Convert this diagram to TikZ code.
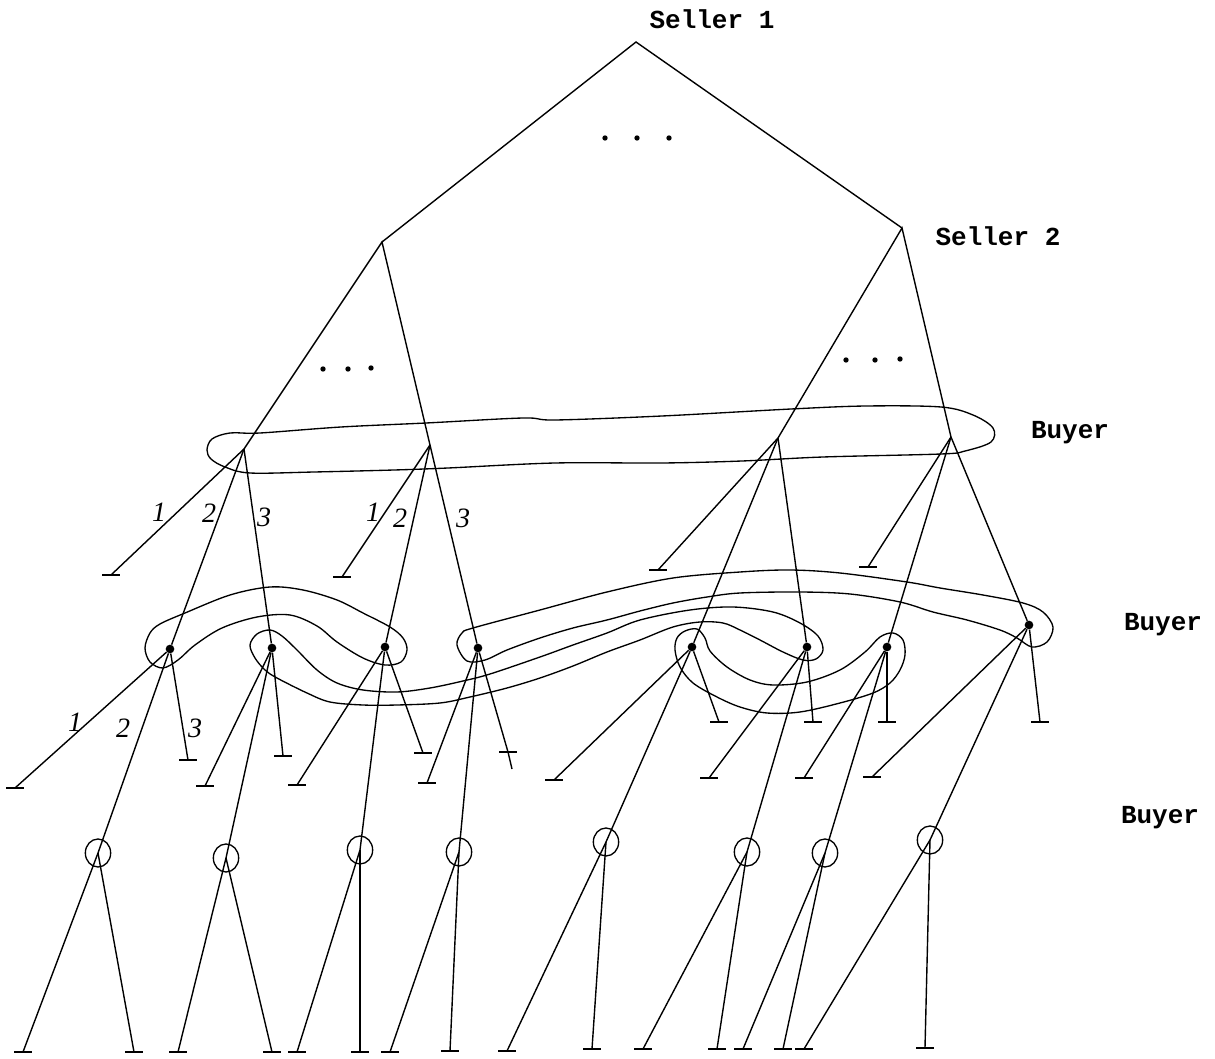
\documentclass[tikz,border=0pt]{standalone}
\usepackage{fontspec}
\newfontfamily\labfont{Liberation Mono}
\newfontfamily\numfont{Liberation Serif}
\newcommand\termnode[3]{\coordinate (#1) at (#2,#3); \draw[tickline] ([xshift=-6.75pt]#1) -- ([xshift=6.75pt]#1);}
\begin{document}
\begin{tikzpicture}[x=0.75pt,y=-0.75pt,
  edge/.style={line width=1.05pt},
  tickline/.style={line width=1.7pt},
  infoset/.style={line width=1pt},
  dotnode/.style={circle,fill,inner sep=0pt,minimum size=6.5pt},
  lab/.style={font=\labfont\bfseries\fontsize{19.5}{20}\selectfont},
  num/.style={font=\numfont\itshape\fontsize{21}{21}\selectfont},
  oval/.style={line width=1pt}
]
\useasboundingbox (0,0) rectangle (1215,1059);

% decision vertices
\coordinate (R) at (636,42);
\coordinate (S2L) at (382,242);
\coordinate (S2R) at (902,228);
\coordinate (B1a) at (244,449);
\coordinate (B1b) at (430,445);
\coordinate (B1c) at (778,438);
\coordinate (B1d) at (951,437);
\node[dotnode] (C1) at (170,649) {};
\node[dotnode] (C2) at (272,648) {};
\node[dotnode] (C3) at (385,647) {};
\node[dotnode] (C4) at (478,648) {};
\node[dotnode] (C5) at (692,647) {};
\node[dotnode] (C6) at (807,647) {};
\node[dotnode] (C7) at (887,647) {};
\node[dotnode] (C8) at (1029,625) {};
\coordinate (D1) at (98,853);
\coordinate (D2) at (226,858);
\coordinate (D3) at (360,850);
\coordinate (D4) at (459,852);
\coordinate (D5) at (606,842);
\coordinate (D6) at (747,852);
\coordinate (D7) at (825,853);
\coordinate (D8) at (930,840);

% terminals
\termnode{Ta}{111}{575}
\termnode{Tb}{342}{577}
\termnode{Tc}{658}{570}
\termnode{Td}{868}{567}
\termnode{T11}{15}{788}
\termnode{T13}{188}{760}
\termnode{T21}{205}{786}
\termnode{T23}{283}{756}
\termnode{T31}{297}{785}
\termnode{T33}{423}{753}
\termnode{T41}{427}{783}
\termnode{T43}{508}{752}
\coordinate (T43x) at (512,769);
\termnode{T51}{554}{780}
\termnode{T53}{719}{722}
\termnode{T61}{709}{778}
\termnode{T63}{813}{722}
\termnode{T71}{804}{778}
\termnode{T73}{887}{722}
\termnode{T81}{872}{777}
\termnode{T83}{1040}{722}
\termnode{U11}{23}{1052}
\termnode{U12}{134}{1052}
\termnode{U21}{178}{1052}
\termnode{U22}{272}{1052}
\termnode{U31}{297}{1052}
\termnode{U32}{360}{1052}
\termnode{U41}{390}{1052}
\termnode{U42}{450}{1051}
\termnode{U51}{507}{1051}
\termnode{U52}{592}{1049}
\termnode{U61}{643}{1049}
\termnode{U62}{717}{1049}
\termnode{U71}{743}{1049}
\termnode{U72}{783}{1049}
\termnode{U81}{804}{1049}
\termnode{U82}{925}{1048}

% tree edges
\draw[edge] (S2L) -- (R) -- (S2R);
\draw[edge] (B1a) -- (S2L) -- (B1b);
\draw[edge] (B1c) -- (S2R) -- (B1d);
\draw[edge] (B1a) -- (Ta); \draw[edge] (B1a) -- (C1); \draw[edge] (B1a) -- (C2);
\draw[edge] (B1b) -- (Tb); \draw[edge] (B1b) -- (C3); \draw[edge] (B1b) -- (C4);
\draw[edge] (B1c) -- (Tc); \draw[edge] (B1c) -- (C5); \draw[edge] (B1c) -- (C6);
\draw[edge] (B1d) -- (Td); \draw[edge] (B1d) -- (C7); \draw[edge] (B1d) -- (C8);
\draw[edge] (C1) -- (T11); \draw[edge] (C1) -- (D1); \draw[edge] (C1) -- (T13);
\draw[edge] (C2) -- (T21); \draw[edge] (C2) -- (D2); \draw[edge] (C2) -- (T23);
\draw[edge] (C3) -- (T31); \draw[edge] (C3) -- (D3); \draw[edge] (C3) -- (T33);
\draw[edge] (C4) -- (T41); \draw[edge] (C4) -- (D4); \draw[edge] (C4) -- (T43) -- (T43x);
\draw[edge] (C5) -- (T51); \draw[edge] (C5) -- (D5); \draw[edge] (C5) -- (T53);
\draw[edge] (C6) -- (T61); \draw[edge] (C6) -- (D6); \draw[edge] (C6) -- (T63);
\draw[edge] (C7) -- (T71); \draw[edge] (C7) -- (D7); \draw[edge] (C7) -- (T73);
\draw[edge] (C8) -- (T81); \draw[edge] (C8) -- (D8); \draw[edge] (C8) -- (T83);
\draw[edge] (D1) -- (U11); \draw[edge] (D1) -- (U12);
\draw[edge] (D2) -- (U21); \draw[edge] (D2) -- (U22);
\draw[edge] (D3) -- (U31); \draw[edge] (D3) -- (U32);
\draw[edge] (D4) -- (U41); \draw[edge] (D4) -- (U42);
\draw[edge] (D5) -- (U51); \draw[edge] (D5) -- (U52);
\draw[edge] (D6) -- (U61); \draw[edge] (D6) -- (U62);
\draw[edge] (D7) -- (U71); \draw[edge] (D7) -- (U72);
\draw[edge] (D8) -- (U81); \draw[edge] (D8) -- (U82);

% singleton information sets
\foreach \d in {D1,D2,D3,D4,D5,D6,D7,D8}
  \draw[oval] (\d) ellipse [x radius=9.5pt, y radius=10.5pt];

% buyer information set, first move
\draw[infoset] plot[smooth cycle, tension=0.55] coordinates {
 (207,450) (212,439) (230,433) (260,433) (341,427) (426,423) (523,418) (555,420)
 (662,416) (791,409) (866,406) (941,407) (973,415) (993,428) (991,442) (965,451)
 (941,454) (823,457) (742,461) (662,463) (555,463) (448,468) (394,470) (314,472)
 (250,473) (225,467) (211,459)};

% buyer information sets, second move
\draw[infoset] plot[smooth cycle, tension=0.55] coordinates {
 (145,648) (150,633) (160,624) (185,613) (230,595) (270,587) (303,590) (337,600)
 (363,613) (390,627) (403,638) (407,650) (401,662) (385,665) (363,658) (337,642)
 (317,626) (290,615) (257,617) (222,628) (195,645) (178,660) (163,668) (150,662)};
\draw[infoset] plot[smooth cycle, tension=0.55] coordinates {
 (270,630) (282,636) (297,650) (317,670) (337,683) (363,690) (397,692) (430,688)
 (463,681) (490,674) (540,657) (573,645) (607,633) (640,620) (690,610) (733,607)
 (773,612) (800,623) (818,636) (823,650) (816,659) (803,660) (783,652) (760,640)
 (740,630) (723,623) (700,622) (673,627) (640,640) (607,652) (573,666) (540,678)
 (507,688) (470,697) (440,703) (397,705) (363,705) (330,702) (307,693) (277,678)
 (265,670) (255,658) (250,645) (257,634)};
\draw[infoset] plot[smooth cycle, tension=0.55] coordinates {
 (457,645) (462,633) (473,628) (540,610) (607,592) (673,578) (740,572) (790,570)
 (840,573) (907,582) (940,588) (983,595) (1023,603) (1043,612) (1053,627)
 (1047,642) (1032,647) (1017,638) (1000,630) (967,620) (933,612) (900,602) (850,594)
 (800,592) (740,593) (707,597) (673,603) (640,611) (607,620) (573,628) (540,638)
 (507,650) (485,660) (467,661)};
\draw[infoset] plot[smooth cycle, tension=0.55] coordinates {
 (705,638) (710,651) (727,667) (750,680) (773,685) (807,682) (840,670) (865,652)
 (880,637) (893,633) (903,640) (905,655) (900,670) (890,683) (873,693) (840,703)
 (800,712) (767,713) (740,707) (717,697) (693,683) (680,667) (675,650) (677,638)
 (685,631) (697,629)};

% ellipsis dots
\foreach \p in {(605,138),(637,138),(669,138),(323,369),(348,369),(371,368),(846,360),(875,360),(900,359)}
  \fill \p circle (2pt);

% labels
\node[lab] (ls1) at (712,19) {Seller 1};
\node[lab] (ls2) at (998,236) {Seller 2};
\node[lab] (lb1) at (1070,433) {Buyer};
\node[lab] (lb2) at (1163,625) {Buyer};
\node[lab] (lb3) at (1160,818) {Buyer};

\node[num] (n1a) at (159,512) {1};
\node[num] (n2a) at (209,513) {2};
\node[num] (n3a) at (264,517) {3};
\node[num] (n1b) at (373,512) {1};
\node[num] (n2b) at (400,518) {2};
\node[num] (n3b) at (463,518) {3};
\node[num] (n1c) at (75,722) {1};
\node[num] (n2c) at (123,728) {2};
\node[num] (n3c) at (195,728) {3};
\end{tikzpicture}
\end{document}
